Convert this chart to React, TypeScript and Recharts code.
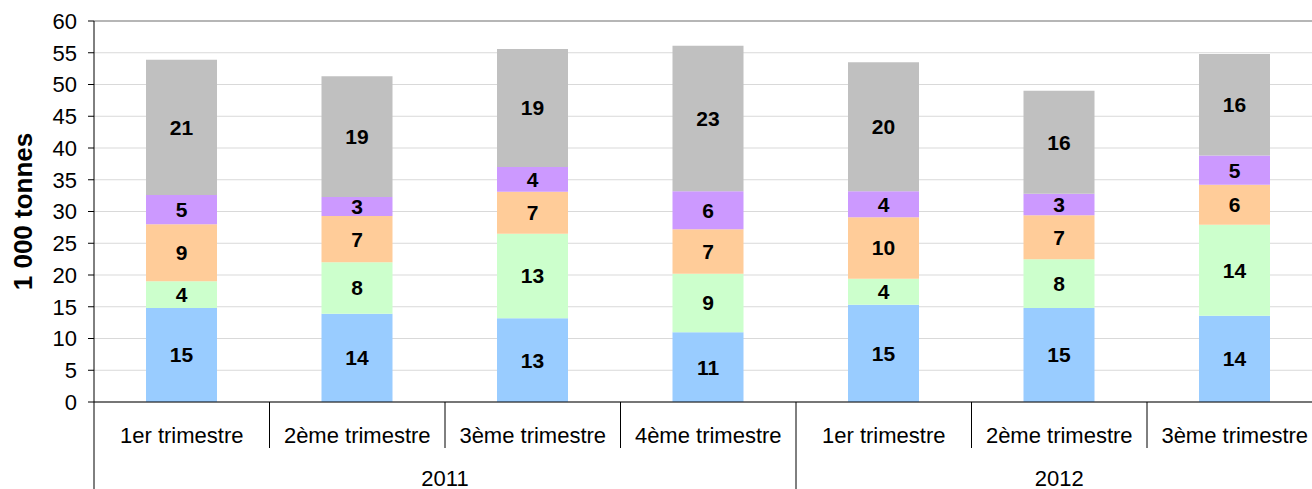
import { BarChart, Bar, XAxis, YAxis, CartesianGrid, ReferenceLine, LabelList, Label } from "recharts";

const quarters = [
  "1er trimestre", "2ème trimestre", "3ème trimestre", "4ème trimestre",
  "1er trimestre", "2ème trimestre", "3ème trimestre",
];
const years = ["2011", "2011", "2011", "2011", "2012", "2012", "2012"];

// stacked segments, bottom to top
const serieBleu = [14.8, 13.9, 13.2, 11.0, 15.3, 14.8, 13.6];
const serieVert = [4.2, 8.1, 13.3, 9.2, 4.1, 7.7, 14.3];
const serieOrange = [9.0, 7.3, 6.6, 7.0, 9.7, 6.9, 6.3];
const serieViolet = [4.6, 3.0, 3.9, 6.0, 4.1, 3.4, 4.6];
const serieGris = [21.3, 19.0, 18.6, 22.9, 20.3, 16.2, 16.0];

const yTicks = [0, 5, 10, 15, 20, 25, 30, 35, 40, 45, 50, 55, 60];

const data = quarters.map((q, i) => ({
  id: `${years[i]}-${i}`,
  quarter: q,
  year: years[i],
  bleu: serieBleu[i],
  vert: serieVert[i],
  orange: serieOrange[i],
  violet: serieViolet[i],
  gris: serieGris[i],
}));

const FONT = "'Liberation Sans', Arial, sans-serif";
const CHART_W = 1332;
const CHART_H = 489;
const LEFT = 94;
const RIGHT = 9.5;
const CAT_W = (CHART_W - LEFT - RIGHT) / quarters.length;

function QuarterTick(props: any) {
  const { x, y, index } = props;
  const left = x - CAT_W / 2;
  const right = x + CAT_W / 2;
  const first = index === 0 || years[index - 1] !== years[index];
  const last = index === years.length - 1 || years[index + 1] !== years[index];
  const groupSize = years.filter((yr) => yr === years[index]).length;
  return (
    <g>
      <text
        x={x}
        y={y + 33}
        textAnchor="middle"
        dominantBaseline="central"
        fontSize={22}
        fontFamily={FONT}
        fill="#000"
      >
        {quarters[index]}
      </text>
      <line x1={right} y1={y} x2={right} y2={last ? y + 87 : y + 46} stroke="#000" />
      {index === 0 && <line x1={left} y1={y} x2={left} y2={y + 87} stroke="#000" />}
      {first && (
        <text
          x={left + (groupSize * CAT_W) / 2}
          y={y + 76}
          textAnchor="middle"
          dominantBaseline="central"
          fontSize={22}
          fontFamily={FONT}
          fill="#000"
        >
          {years[index]}
        </text>
      )}
    </g>
  );
}

const labelStyle = { fill: "#000", fontSize: 21, fontWeight: "bold", fontFamily: FONT };
const fmt = (v: any) => Math.round(Number(v));

export default function App() {
  return (
    <div style={{ position: "fixed", left: 0, top: 0, width: 1312, height: 489, overflow: "hidden", background: "#fff" }}>
      <BarChart
        width={CHART_W}
        height={CHART_H}
        data={data}
        margin={{ top: 21, right: RIGHT, left: 0, bottom: 0 }}
        barSize={71}
      >
        <CartesianGrid vertical={false} stroke="#d9d9d9" />
        <XAxis
          dataKey="id"
          height={87}
          interval={0}
          axisLine={{ stroke: "#000" }}
          tickLine={false}
          tickSize={0}
          tickMargin={0}
          tick={(p: any) => <QuarterTick {...p} />}
        />
        <YAxis
          width={LEFT}
          domain={[0, 60]}
          ticks={yTicks}
          interval={0}
          axisLine={{ stroke: "#000" }}
          tickLine={{ stroke: "#000" }}
          tickSize={6}
          tickMargin={11}
          tick={{ fill: "#000", fontSize: 22, fontFamily: FONT }}
        >
          <Label
            value="1 000 tonnes"
            angle={-90}
            position="insideLeft"
            offset={23}
            style={{ textAnchor: "middle", fontWeight: "bold", fontSize: 26, fill: "#000", fontFamily: FONT }}
          />
        </YAxis>
        <ReferenceLine y={60} stroke="#808080" />
        <Bar dataKey="bleu" stackId="s" fill="#99ccff" isAnimationActive={false}>
          <LabelList dataKey="bleu" position="center" formatter={fmt} style={labelStyle} />
        </Bar>
        <Bar dataKey="vert" stackId="s" fill="#ccffcc" isAnimationActive={false}>
          <LabelList dataKey="vert" position="center" formatter={fmt} style={labelStyle} />
        </Bar>
        <Bar dataKey="orange" stackId="s" fill="#ffcc99" isAnimationActive={false}>
          <LabelList dataKey="orange" position="center" formatter={fmt} style={labelStyle} />
        </Bar>
        <Bar dataKey="violet" stackId="s" fill="#cc99ff" isAnimationActive={false}>
          <LabelList dataKey="violet" position="center" formatter={fmt} style={labelStyle} />
        </Bar>
        <Bar dataKey="gris" stackId="s" fill="#c0c0c0" isAnimationActive={false}>
          <LabelList dataKey="gris" position="center" formatter={fmt} style={labelStyle} />
        </Bar>
      </BarChart>
    </div>
  );
}
